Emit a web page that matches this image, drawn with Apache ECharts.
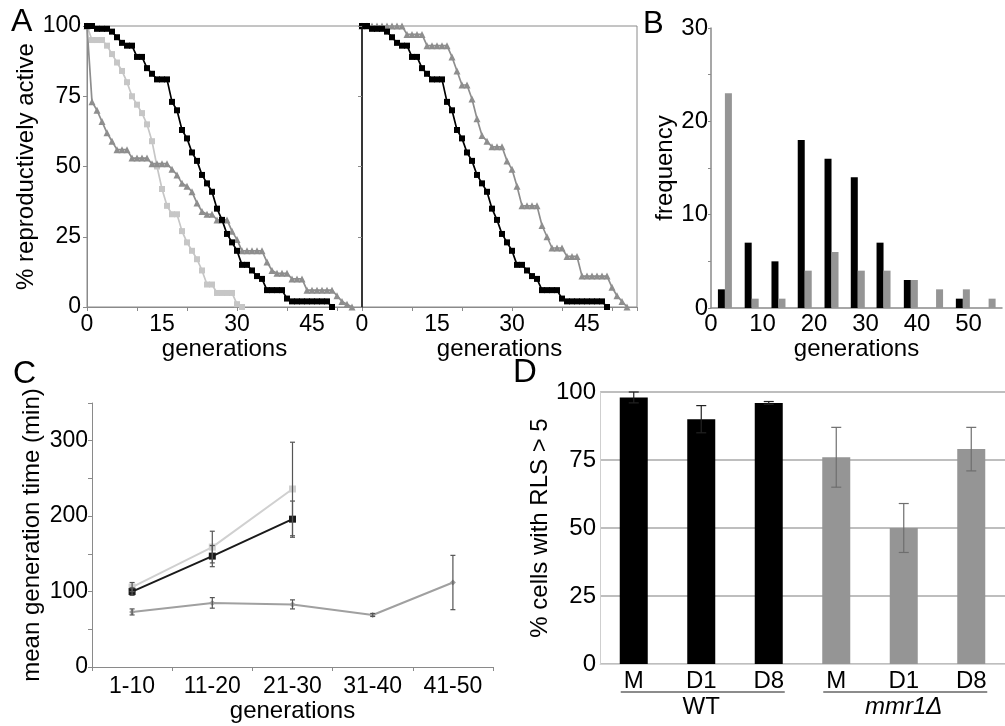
<!DOCTYPE html>
<html><head><meta charset="utf-8">
<script src="https://cdn.jsdelivr.net/npm/echarts@6/dist/echarts.min.js"></script>
<style>html,body{margin:0;padding:0;background:#fff}#c{width:1005px;height:726px}</style>
</head><body><div id="c"></div>
<script>
// ---------- Panel A: % reproductively active per generation (index = generation) ----------
const wtSurvival = [100,100,99,99,99,98,96,94,93,93,89,89,85,83,81,81,81,73,70,63,60,55,52,47,44,41,35,31,26,23,20,15,15,13,11,10,6,6,6,6,3,2,2,2,2,2,2,2,2,0];
const lightSurvival = [100,95,95,95,93,90,87,84,80,75,72,69,65,59,50,42,36,33,33,27,23,20,17,13,8,8,5,5,5,5,1,0];
const grayLeftSurvival = [100,73,70,66,62,59,56,56,56,53,53,53,53,51,51,51,51,49,47,44,43,41,37,34,33,33,31,31,31,27,24,20,20,20,20,20,16,13,12,12,12,10,10,10,6,6,6,6,6,6,4,2,1,0];
const grayRightSurvival = [100,100,100,100,100,100,100,100,100,97,97,97,97,93,93,93,93,93,89,84,79,79,74,67,61,59,57,57,57,52,49,43,36,36,36,36,29,25,21,21,21,18,18,18,11,11,11,11,11,11,7,4,2,0];

// ---------- Panel B: histogram ----------
const bBins = [2.7,7.9,13.1,18.2,23.4,28.5,33.5,38.8,43.7,48.9,53.9];
const bWT = [2,7,5,18,16,14,7,3,0,1,0];
const bMut = [23,1,1,4,6,4,4,3,2,2,1];

// ---------- Panel C: mean generation time ----------
const cCategories = ['1-10','11-20','21-30','31-40','41-50'];
const cLightMean = [106,159,236];
const cLightErr = [6,21,62];
const cBlackMean = [100,147,196];
const cBlackErr = [5,14,24];
const cGrayMean = [73,85,83,69,112];
const cGrayErr = [4,7,6,2,36];

// ---------- Panel D: % cells with RLS > 5 ----------
const dConditions = ['M','D1','D8','M','D1','D8'];
const dValues = [98,90,96,76,50,79];
const dErrors = [2,5,0.5,11,9,8];
const dGroupOf = [0,0,0,1,1,1];
const dGroupNames = ['WT','mmr1Δ'];

const FONT = 'Liberation Sans, Arial, Helvetica, sans-serif';
const AX = '#8a8a8a';
const BLACK = '#000000', LIGHT = '#c6c6c6', GRAY = '#8e8e8e', BARGRAY = '#959595';

const chart = echarts.init(document.getElementById('c'), null, {renderer:'canvas'});

const lbl = (extra) => Object.assign({color:'#000', fontSize:23, fontFamily:FONT}, extra||{});
const nameStyle = {color:'#000', fontSize:24, fontFamily:FONT};

function errSeries(xAxisIndex, yAxisIndex, means, errs, color, capHalf, lw){
  return {
    type:'custom', xAxisIndex, yAxisIndex, z:5,
    data: means.map((m,i)=>[i, m, errs[i]]),
    encode:{x:0, y:1},
    renderItem:function(params, api){
      const x = api.value(0), m = api.value(1), e = api.value(2);
      const t = api.coord([x, m+e]), b = api.coord([x, m-e]);
      const st = {stroke:color, lineWidth:lw};
      return {type:'group', children:[
        {type:'line', shape:{x1:t[0],y1:t[1],x2:b[0],y2:b[1]}, style:st},
        {type:'line', shape:{x1:t[0]-capHalf,y1:t[1],x2:t[0]+capHalf,y2:t[1]}, style:st},
        {type:'line', shape:{x1:b[0]-capHalf,y1:b[1],x2:b[0]+capHalf,y2:b[1]}, style:st}
      ]};
    }
  };
}

function survLine(arr, xi, yi, color, symbol, size, z){
  return {type:'line', xAxisIndex:xi, yAxisIndex:yi, data:arr.map((v,i)=>[i,v]),
    symbol:symbol, symbolSize:size, showSymbol:true, z:z,
    lineStyle:{color:color, width:1.7}, itemStyle:{color:color, borderWidth:0}, animation:false};
}

const onlyMult = (k) => (v) => (Math.abs(v % k) < 1e-9 ? String(v) : '');

const groupSpans = dGroupNames.map((g,gi)=>{
  const idx = dGroupOf.map((v,i)=>v===gi?i:-1).filter(i=>i>=0);
  return [idx[0], idx[idx.length-1], gi];
});

const option = {
  animation:false,
  textStyle:{fontFamily:FONT},
  grid:[
    {left:87, top:26, width:275, height:281, show:true, borderColor:AX, borderWidth:1},
    {left:362, top:26, width:275, height:281, show:true, borderColor:AX, borderWidth:1},
    {left:711, top:28, width:292, height:280},
    {left:92, top:403, width:401, height:264},
    {left:600, top:392, width:405, height:272}
  ],
  xAxis:[
    {type:'value', gridIndex:0, position:'bottom', min:0, max:55, interval:10, axisLine:{lineStyle:{color:AX}},
     axisTick:{show:true, length:4, lineStyle:{color:AX}}, axisLabel:{show:false}, splitLine:{show:false}},
    {type:'value', gridIndex:0, position:'bottom', min:0, max:55, interval:15, axisLine:{show:false}, axisTick:{show:false},
     axisLabel:lbl({margin:6, formatter:onlyMult(15)}), splitLine:{show:false},
     name:'generations', nameLocation:'middle', nameGap:25, nameTextStyle:nameStyle},
    {type:'value', gridIndex:1, position:'bottom', min:0, max:55, interval:10, axisLine:{lineStyle:{color:AX}},
     axisTick:{show:true, length:4, lineStyle:{color:AX}}, axisLabel:{show:false}, splitLine:{show:false}},
    {type:'value', gridIndex:1, position:'bottom', min:0, max:55, interval:15, axisLine:{show:false}, axisTick:{show:false},
     axisLabel:lbl({margin:6, formatter:onlyMult(15)}), splitLine:{show:false},
     name:'generations', nameLocation:'middle', nameGap:25, nameTextStyle:nameStyle},
    {type:'value', gridIndex:2, position:'bottom', min:0, max:56.5, interval:10, axisLine:{lineStyle:{color:AX, width:1.5}},
     axisTick:{show:false}, axisLabel:lbl({margin:4, fontSize:24, formatter:onlyMult(10)}), splitLine:{show:false},
     name:'generations', nameLocation:'middle', nameGap:26, nameTextStyle:nameStyle},
    {type:'category', gridIndex:3, position:'bottom', data:cCategories, boundaryGap:true,
     axisLine:{lineStyle:{color:AX}}, axisTick:{show:true, length:4, lineStyle:{color:AX}},
     axisLabel:lbl({margin:8}), name:'generations', nameLocation:'middle', nameGap:32, nameTextStyle:nameStyle},
    {type:'category', gridIndex:4, position:'bottom', data:dConditions.map((c,i)=>i+':'+c), boundaryGap:true,
     axisLine:{lineStyle:{color:'#d4d4d4'}}, axisTick:{show:false},
     axisLabel:lbl({margin:5, fontSize:24, formatter:(v)=>v.split(':')[1]})}
  ],
  yAxis:[
    {type:'value', gridIndex:0, min:0, max:100, interval:25, axisLine:{show:true, lineStyle:{color:AX}},
     axisTick:{show:true, length:4, lineStyle:{color:AX}}, axisLabel:lbl({margin:6}), splitLine:{show:false},
     name:'% reproductively active', nameLocation:'middle', nameGap:43, nameTextStyle:nameStyle},
    {type:'value', gridIndex:1, min:0, max:100, interval:25, axisLine:{show:true, lineStyle:{color:'#111', width:1.5}},
     axisTick:{show:true, length:4, lineStyle:{color:AX}}, axisLabel:{show:false}, splitLine:{show:false}, z:10},
    {type:'value', gridIndex:2, min:0, max:30, interval:5, axisLine:{show:true, lineStyle:{color:AX, width:1.5}},
     axisTick:{show:true, length:3, lineStyle:{color:AX}}, axisLabel:lbl({margin:3, fontSize:24, formatter:onlyMult(10)}),
     splitLine:{show:false}, name:'frequency', nameLocation:'middle', nameGap:20, nameTextStyle:nameStyle},
    {type:'value', gridIndex:3, min:0, max:350, interval:50, axisLine:{show:true, lineStyle:{color:AX}},
     axisTick:{show:true, length:4, lineStyle:{color:AX}},
     axisLabel:lbl({margin:4, formatter:(v)=>(v%100===0 ? String(v) : '')}), splitLine:{show:false},
     name:'mean generation time (min)', nameLocation:'middle', nameGap:48, nameTextStyle:nameStyle},
    {type:'value', gridIndex:4, min:0, max:100, interval:25, axisLine:{show:true, lineStyle:{color:'#cfcfcf'}},
     axisTick:{show:false}, axisLabel:lbl({margin:4, fontSize:24}),
     splitLine:{show:true, lineStyle:{color:'#a9a9a9', width:1.5}},
     name:'% cells with RLS > 5', nameLocation:'middle', nameGap:46, nameTextStyle:nameStyle}
  ],
  series:[
    survLine(lightSurvival, 1, 0, LIGHT, 'rect', 6, 2),
    survLine(grayLeftSurvival, 1, 0, GRAY, 'triangle', 7, 3),
    survLine(wtSurvival, 1, 0, BLACK, 'rect', 6, 4),
    survLine(grayRightSurvival, 3, 1, GRAY, 'triangle', 7, 3),
    survLine(wtSurvival, 3, 1, BLACK, 'rect', 6, 4),
    {type:'bar', xAxisIndex:4, yAxisIndex:2, barWidth:7, barGap:'0%',
     data:bBins.map((x,i)=>[x,bWT[i]]), itemStyle:{color:BLACK}},
    {type:'bar', xAxisIndex:4, yAxisIndex:2, barWidth:7, barGap:'0%',
     data:bBins.map((x,i)=>[x,bMut[i]]), itemStyle:{color:BARGRAY}},
    {type:'line', xAxisIndex:5, yAxisIndex:3, data:cGrayMean, symbol:'diamond', symbolSize:6,
     lineStyle:{color:'#a0a0a0', width:2}, itemStyle:{color:'#a0a0a0'}, z:2},
    {type:'line', xAxisIndex:5, yAxisIndex:3, data:cLightMean, symbol:'rect', symbolSize:7,
     lineStyle:{color:'#d0d0d0', width:2}, itemStyle:{color:'#d0d0d0'}, z:2},
    {type:'line', xAxisIndex:5, yAxisIndex:3, data:cBlackMean, symbol:'rect', symbolSize:7,
     lineStyle:{color:'#1a1a1a', width:2}, itemStyle:{color:'#1a1a1a'}, z:3},
    errSeries(5, 3, cGrayMean, cGrayErr, '#555', 2.5, 1.2),
    errSeries(5, 3, cLightMean, cLightErr, '#555', 2.5, 1.2),
    errSeries(5, 3, cBlackMean, cBlackErr, '#555', 2.5, 1.2),
    {type:'bar', xAxisIndex:6, yAxisIndex:4, barWidth:28,
     data:dValues.map((v,i)=>({value:v, itemStyle:{color: dGroupOf[i]===0 ? BLACK : BARGRAY}}))},
    {type:'custom', xAxisIndex:6, yAxisIndex:4, z:5,
     data:dValues.map((m,i)=>[i, m, dErrors[i], dGroupOf[i]]), encode:{x:0, y:1},
     renderItem:function(params, api){
       const x = api.value(0), m = api.value(1), e = api.value(2), g = api.value(3);
       const t = api.coord([x, m+e]), b = api.coord([x, m-e]);
       const st = {stroke: g===0 ? '#222' : '#6e6e6e', lineWidth:1.2};
       return {type:'group', children:[
         {type:'line', shape:{x1:t[0],y1:t[1],x2:b[0],y2:b[1]}, style:st},
         {type:'line', shape:{x1:t[0]-5,y1:t[1],x2:t[0]+5,y2:t[1]}, style:st},
         {type:'line', shape:{x1:b[0]-5,y1:b[1],x2:b[0]+5,y2:b[1]}, style:st}
       ]};
     }},
    {type:'custom', xAxisIndex:6, yAxisIndex:4, z:5, clip:false,
     data:groupSpans, encode:{x:0, y:1},
     renderItem:function(params, api){
       const s = api.value(0), e = api.value(1), gi = api.value(2);
       const p0 = api.coord([s, 0]), p1 = api.coord([e, 0]);
       const y = p0[1] + 28;
       return {type:'group', children:[
         {type:'line', shape:{x1:p0[0]-13, y1:y, x2:p1[0]+16, y2:y}, style:{stroke:'#8c8c8c', lineWidth:2.2}},
         {type:'text', style:{text:dGroupNames[gi], x:(p0[0]+p1[0])/2, y:y+3, align:'center', verticalAlign:'top',
           fontSize:24, fontFamily:FONT, fill:'#000', fontStyle: gi===1 ? 'italic' : 'normal'}}
       ]};
     }}
  ],
  graphic:[
    {type:'text', left:11, top:6, style:{text:'A', fontSize:32, fontFamily:FONT, fill:'#000'}},
    {type:'text', left:643, top:9, style:{text:'B', fontSize:31, fontFamily:FONT, fill:'#000'}},
    {type:'text', left:13, top:358, style:{text:'C', fontSize:32, fontFamily:FONT, fill:'#000'}},
    {type:'text', left:513, top:356, style:{text:'D', fontSize:33, fontFamily:FONT, fill:'#000'}}
  ]
};
chart.setOption(option);
</script>
</body></html>
